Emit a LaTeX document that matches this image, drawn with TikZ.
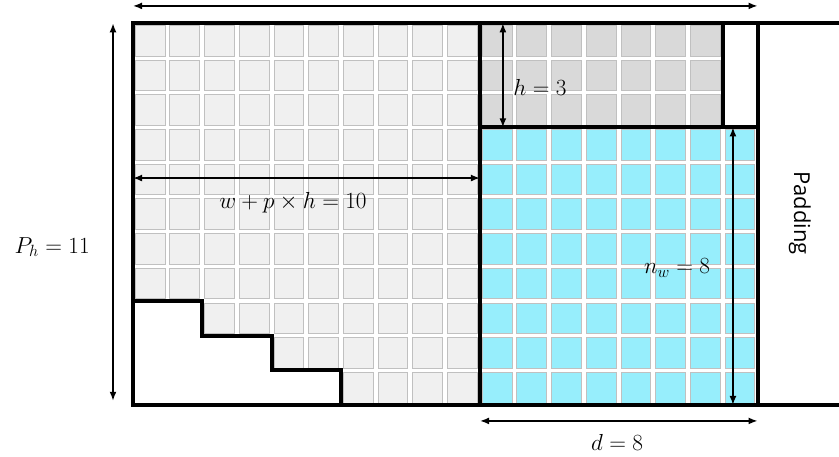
\RequirePackage{fix-cm}
\documentclass[tikz,border=0pt]{standalone}
\usepackage{amsmath}
\usepackage{fontspec}
\newfontfamily\padfont{Open Sans}
\usepackage{xcolor}
\usetikzlibrary{arrows.meta}
\definecolor{cellgray}{RGB}{240,240,240}
\definecolor{celldark}{RGB}{217,217,217}
\definecolor{cellcyan}{RGB}{151,238,252}
\definecolor{celledge}{RGB}{192,192,192}
\tikzset{
  cell/.style={draw=celledge, line width=0.6pt},
  frame/.style={line width=3.4pt},
  dim/.style={{Latex[length=2.6mm,width=2mm]}-{Latex[length=2.6mm,width=2mm]}, line width=1.3pt},
  lbl/.style={font=\fontsize{19}{23}\selectfont, inner sep=1pt}
}

\begin{document}
\begin{tikzpicture}[x=1cm, y=1cm]
  \useasboundingbox (-3.833,-1.499) rectangle (20.346,11.671);
  % cells
  \foreach \x in {0,...,9}
    \foreach \y in {0,...,10}
      \draw[cell, fill=cellgray] (\x+0.06,\y+0.06) rectangle (\x+0.92,\y+0.94);
  \foreach \x in {10,...,16}
    \foreach \y in {8,9,10}
      \draw[cell, fill=celldark] (\x+0.06,\y+0.06) rectangle (\x+0.92,\y+0.94);
  \foreach \x in {10,...,17}
    \foreach \y in {0,...,7}
      \draw[cell, fill=cellcyan] (\x+0.06,\y+0.06) rectangle (\x+0.92,\y+0.94);
  % staircase
  \draw[frame, fill=white] (0,0) -- (0,3) -- (2,3) -- (2,2) -- (4,2) -- (4,1) -- (6,1) -- (6,0) -- cycle;
  % frame
  \draw[frame] (20.6,11) -- (0,11) -- (0,0) -- (20.6,0);
  \draw[frame] (10,0) -- (10,11);
  \draw[frame] (18,0) -- (18,11);
  \draw[frame] (10,8) -- (18,8);
  \draw[frame] (17,8) -- (17,11);

  % dimension ends
  \coordinate (topL) at (0,11.5);
  \coordinate (topR) at (18,11.5);
  \coordinate (phB) at (-0.576,0.12);
  \coordinate (phT) at (-0.576,11);
  \coordinate (hT) at (10.66,11);
  \coordinate (hB) at (10.66,8);
  \coordinate (wL) at (0,6.54);
  \coordinate (wR) at (10,6.54);
  \coordinate (nT) at (17.29,8);
  \coordinate (nB) at (17.29,0);
  \coordinate (dL) at (10,-0.46);
  \coordinate (dR) at (18,-0.46);

  \draw[dim] (topL) -- (topR);
  \draw[dim] (phB) -- (phT);
  \draw[dim] (hT) -- (hB);
  \draw[dim] (wL) -- (wR);
  \draw[dim] (nT) -- (nB);
  \draw[dim] (dL) -- (dR);

  \node[lbl] (phlabel) at (-2.33,4.55) {$P_h = 11$};
  \node[lbl] (hlabel) at (11.73,9.16) {$h = 3$};
  \node[lbl] (wlabel) at (4.61,5.82) {$w + p \times h = 10$};
  \node[lbl] (nlabel) at (15.68,3.95) {$n_w = 8$};
  \node[lbl] (dlabel) at (13.95,-1.07) {$d = 8$};
  \node[font=\padfont\fontsize{18}{20}\selectfont, rotate=-90] (padding) at (19.22,5.53) {Padding};
\end{tikzpicture}
\end{document}
